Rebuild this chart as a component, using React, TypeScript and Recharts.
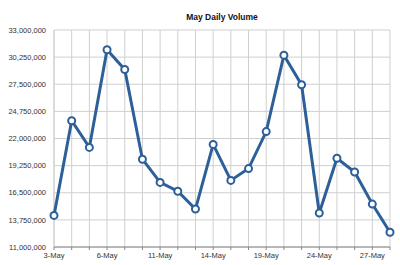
import { LineChart, Line, XAxis, YAxis, CartesianGrid } from 'recharts';

const dates = [
  '3-May', '4-May', '5-May', '6-May', '7-May', '10-May', '11-May', '12-May', '13-May', '14-May',
  '17-May', '18-May', '19-May', '20-May', '21-May', '24-May', '25-May', '26-May', '27-May', '28-May',
];
const volumes = [
  14200000, 23800000, 21100000, 31000000, 29000000, 19900000, 17550000, 16650000, 14850000, 21400000,
  17750000, 18950000, 22700000, 30450000, 27450000, 14450000, 20000000, 18600000, 15350000, 12500000,
];
const yTicks = [11000000, 13750000, 16500000, 19250000, 22000000, 24750000, 27500000, 30250000, 33000000];

const data = dates.map((date, i) => ({ date, volume: volumes[i] }));

const font = 'Liberation Sans, Arial, Helvetica, sans-serif';

export default function App() {
  return (
    <div style={{ position: 'absolute', left: 0, top: 0, width: 400, height: 265, background: '#fff', fontFamily: font }}>
      <div
        style={{
          position: 'absolute',
          left: 54,
          width: 336,
          top: 12,
          textAlign: 'center',
          fontSize: 8.5,
          fontWeight: 'bold',
          color: '#111',
        }}
      >
        May Daily Volume
      </div>
      <LineChart width={400} height={265} data={data} margin={{ top: 30, right: 10, bottom: 0, left: 0 }}>
        <CartesianGrid stroke="#cfcfcf" strokeWidth={1} />
        <XAxis
          dataKey="date"
          interval={0}
          height={18}
          tickSize={3}
          tickMargin={3}
          stroke="#888"
          tick={{ fontSize: 7.5, fill: '#333', fontFamily: font }}
          tickFormatter={(v: string, i: number) => (i % 3 === 0 ? v : '')}
        />
        <YAxis
          domain={[11000000, 33000000]}
          ticks={yTicks}
          width={54}
          axisLine={false}
          tickLine={false}
          tickSize={6}
          tickMargin={2}
          tick={{ fontSize: 7.5, fill: '#333', fontFamily: font }}
          tickFormatter={(v: number) => v.toLocaleString('en-US')}
        />
        <Line
          type="linear"
          dataKey="volume"
          stroke="#2d5f99"
          strokeWidth={3}
          dot={{ r: 3.5, fill: '#fff', stroke: '#2d5f99', strokeWidth: 2 }}
          isAnimationActive={false}
        />
      </LineChart>
    </div>
  );
}
